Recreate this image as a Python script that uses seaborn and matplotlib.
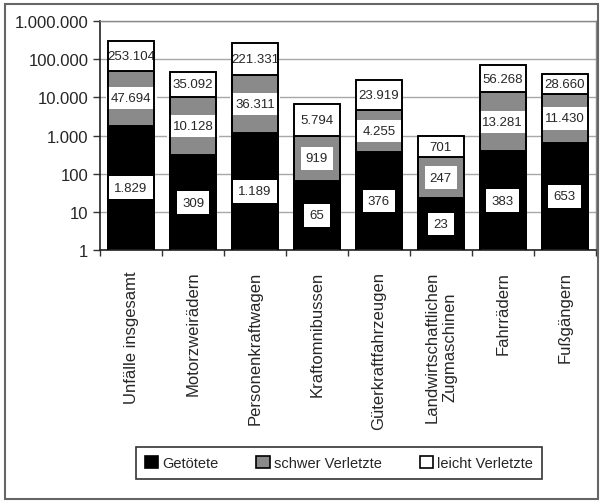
import numpy as np
import pandas as pd
import matplotlib
matplotlib.use("Agg")
import matplotlib.pyplot as plt
import seaborn as sns
from matplotlib.patches import Patch, Rectangle
from matplotlib.ticker import FixedLocator, FuncFormatter, NullLocator

categories = ["Unfälle insgesamt", "Motorzweirädern", "Personenkraftwagen",
              "Kraftomnibussen", "Güterkraftfahrzeugen",
              "Landwirtschaftlichen\nZugmaschinen", "Fahrrädern", "Fußgängern"]
getoetete = [1829, 309, 1189, 65, 376, 23, 383, 653]
schwer = [47694, 10128, 36311, 919, 4255, 247, 13281, 11430]
leicht = [253104, 35092, 221331, 5794, 23919, 701, 56268, 28660]
series_names = ["Getötete", "schwer Verletzte", "leicht Verletzte"]
colors = ["black", "#8a8a8a", "white"]


def de_fmt(v):
    return f"{int(round(v)):,}".replace(",", ".")


df = pd.DataFrame({"cat": categories, "g": getoetete, "s": schwer, "l": leicht})
df["c1"] = df["g"]
df["c2"] = df["g"] + df["s"]
df["c3"] = df["g"] + df["s"] + df["l"]

sns.set_style("white")
plt.rcParams["font.family"] = ["Liberation Sans", "DejaVu Sans"]

fig = plt.figure(figsize=(6.03, 5.02), dpi=100)
ax = fig.add_axes([0.166, 0.5, 0.822, 0.456])
ax.set_yscale("log")

# stacked bars drawn as cumulative totals, biggest first
for col, c in zip(["c3", "c2", "c1"], colors[::-1]):
    sns.barplot(data=df, x="cat", y=col, color=c, edgecolor="black",
                linewidth=1.2, width=0.74, ax=ax, saturation=1, zorder=2)

ax.set_ylim(1, 1e6)
ax.set_xlim(-0.5, len(categories) - 0.5)
ax.yaxis.set_major_locator(FixedLocator([1, 10, 100, 1e3, 1e4, 1e5, 1e6]))
ax.yaxis.set_minor_locator(NullLocator())
ax.yaxis.set_major_formatter(FuncFormatter(lambda v, p: de_fmt(v)))
ax.grid(axis="y", color="#a8a8a8", lw=1, zorder=0)
ax.set_axisbelow(True)
ax.tick_params(axis="y", which="major", direction="out", length=5, width=1,
               labelsize=12, left=True, color="#333333")
ax.set_xticks(range(len(categories)))
ax.set_xticklabels(categories, rotation=90, fontsize=12, ha="center", va="top",
                   multialignment="center")
ax.set_xticks(np.arange(-0.5, len(categories)), minor=True)
ax.tick_params(axis="x", which="major", length=0, pad=15)
ax.tick_params(axis="x", which="minor", direction="out", length=4, width=1,
               bottom=True, color="#333333")
ax.set_xlabel("")
ax.set_ylabel("")
for side in ["left", "bottom"]:
    ax.spines[side].set_color("#222222")
    ax.spines[side].set_linewidth(1.2)
for side in ["top", "right"]:
    ax.spines[side].set_color("#888888")
    ax.spines[side].set_linewidth(1)

# value labels at log-middle of each segment
for i, row in df.iterrows():
    segs = [(1, row["c1"], row["g"], True),
            (row["c1"], row["c2"], row["s"], True),
            (row["c2"], row["c3"], row["l"], False)]
    for lo, hi, val, boxed in segs:
        ymid = np.sqrt(lo * hi)
        bbox = dict(boxstyle="square,pad=0.4", fc="white", ec="none") if boxed else None
        ax.text(i, ymid, de_fmt(val), ha="center", va="center", fontsize=9.5,
                zorder=5, bbox=bbox)

# bar outlines again on top so the label boxes do not hide them
for col in ["c3", "c2", "c1"]:
    sns.barplot(data=df, x="cat", y=col, fill=False, color="black",
                linewidth=1.2, width=0.74, ax=ax, zorder=6)
ax.set_xlabel("")
ax.set_ylabel("")

handles = [Patch(facecolor=c, edgecolor="black", lw=1.2) for c in colors]
leg = fig.legend(handles, series_names, loc="center", bbox_to_anchor=(0.562, 0.076),
                 ncol=3, fontsize=10.5, frameon=True, fancybox=False,
                 edgecolor="black", handlelength=0.9, handleheight=0.9,
                 handletextpad=0.3, columnspacing=2.6, borderpad=0.6)
leg.get_frame().set_linewidth(1.2)

fig.patches.append(Rectangle((0.008, 0.004), 0.984, 0.986, transform=fig.transFigure,
                             fill=False, ec="#666666", lw=1.5))

fig.savefig("out.png", dpi=100)
